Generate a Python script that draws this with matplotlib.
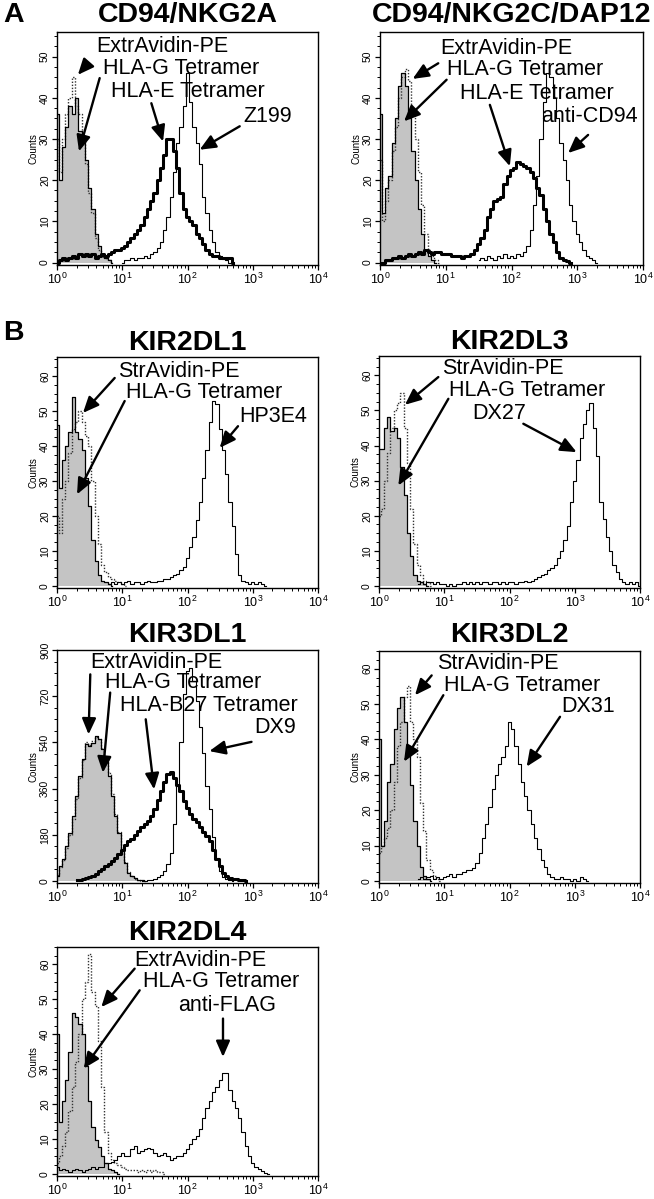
import numpy as np
import matplotlib
matplotlib.use("Agg")
import matplotlib.pyplot as plt
from matplotlib.ticker import LogLocator, AutoMinorLocator, NullFormatter, FixedLocator

plt.rcParams['font.family'] = ['Liberation Sans', 'DejaVu Sans']

STEP = 0.05  # histogram channel width in decades

# ---------------- data (log10 start, counts) ----------------
# A: CD94/NKG2A
a1_extr_start = 0.0
a1_extr = [30, 22, 30, 36, 40, 45, 38, 36, 30, 24, 17, 12, 6, 3, 2, 1, 0.5, 0]
a1_hlag_start = 0.0
a1_hlag = [36, 20, 28, 33, 38, 36, 40, 32, 30, 25, 18, 13, 7, 4, 2, 1, 0.5, 0]
a1_hlae_start = 0.0
a1_hlae = [0, 0.5, 1, 0.5, 1, 1.5, 1, 2, 1.5, 2, 1.5, 2, 1, 1.5, 2, 1.5, 2, 2.5, 3, 3,
           3.5, 4, 5, 6, 7, 8, 9, 11, 13, 15, 17, 20, 23, 26, 30, 30, 27, 23, 17, 13,
           11, 10, 9, 7, 6, 4.5, 3, 2, 1.5, 1.5, 1, 1, 1, 1, 0]
a1_ab_start = 1.0
a1_ab = [0, 0.5, 0.5, 1, 0.5, 1, 1, 1.5, 1, 2, 2.5, 3.5, 5, 8, 11, 16, 22, 29, 33, 38,
         46, 39, 33, 29, 24, 16, 12, 8, 5, 2.5, 1.5, 0.8, 0.5, 0]

# A: CD94/NKG2C/DAP12
a2_extr_start = 0.0
a2_extr = [25, 10, 15, 20, 27, 33, 40, 45, 47, 44, 37, 30, 22, 14, 7, 3, 1.5, 0.5, 0]
a2_hlag_start = 0.0
a2_hlag = [36, 12, 18, 21, 29, 35, 43, 46, 43, 35, 27, 20, 13, 7, 3, 1.5, 0.5, 0]
a2_hlae_start = 0.0
a2_hlae = [0, 0, 0.5, 0.5, 1, 1, 1.5, 1, 1.5, 2, 1.5, 2, 2.5, 2, 3, 2.5, 2, 2.5, 2.5, 2,
           2, 2, 1.5, 1.5, 1.5, 1, 1.5, 1.5, 2, 3, 4.5, 6, 8, 11, 13, 15, 15.5, 16, 19, 21,
           22.5, 23, 24.5, 24, 23.5, 23, 22, 20.5, 18, 16.5, 13, 10, 7, 5, 2.5, 1, 0.5, 0.3, 0]
a2_ab_start = 1.5
a2_ab = [0.5, 1, 0.5, 1.5, 1, 0.5, 1.5, 1, 2, 1, 1.5, 1, 2, 1.5, 2.5, 4, 8, 14, 21, 30,
         39, 46, 45, 40, 35, 29, 25, 20, 14, 10, 7, 5, 3, 1.5, 1, 0.5, 0]

# B: KIR2DL1
k1_str_start = 0.0
k1_str = [20, 15, 25, 30, 38, 45, 47, 50, 47, 43, 40, 30, 20, 12, 6, 4, 2.5, 2, 1.5, 1, 0.5, 0]
k1_hlag_start = 0.0
k1_hlag = [46, 28, 36, 40, 44, 54, 44, 42, 39, 31, 23, 13, 7, 3, 1.5, 1, 0.5, 0]
k1_ab_start = 0.8
k1_ab = [0.5, 1, 0.5, 1, 0.5, 1, 1.5, 0.5, 1, 1, 0.5, 1, 1.5, 1, 1, 1.5, 1.5, 2, 2, 2.5,
         3, 3.5, 4.5, 5.5, 8, 11, 14, 19, 24, 31, 39, 47, 53, 52, 45, 39, 32, 24, 17, 9,
         3, 1.5, 1, 0.5, 1, 0.5, 1, 0.5, 0]

# B: KIR2DL3
k3_str_start = 0.0
k3_str = [20, 22, 30, 38, 45, 50, 52, 55, 45, 35, 22, 12, 6, 3, 1.5, 1, 0]
k3_hlag_start = 0.0
k3_hlag = [39, 39, 45, 48, 44, 45, 42, 34, 26, 15, 8.6, 3, 1.5, 1, 0.5, 0]
k3_ab_start = 0.6
k3_ab = [0.5, 1, 0.5, 1, 1, 0.5, 1, 0.5, 0.5, 0, 0.5, 0, 0.5, 0.5, 1, 0.5, 1, 0.5, 1, 0.5,
         1, 1, 0.5, 1, 1, 0.5, 1, 0.5, 1, 1, 0.5, 1, 1, 1.5, 1, 1.5, 2, 2.5, 3, 3.5,
         4.5, 5, 6, 8, 10, 13, 17, 24, 30, 36, 42, 46, 50, 52, 45, 37, 24, 19, 14, 10,
         6, 4, 2, 1, 0.5, 1, 0.5, 1, 0]

# B: KIR3DL1
k31_extr_start = 0.0
k31_extr = [25, 55, 80, 130, 180, 240, 320, 400, 470, 540, 530, 545, 560, 555, 520, 480,
            420, 340, 260, 190, 130, 75, 35, 18, 8, 3, 0]
k31_hlag_start = 0.0
k31_hlag = [20, 58, 84, 136, 188, 253, 331, 409, 474, 532, 526, 539, 565, 552, 513, 474,
            409, 331, 253, 188, 123, 71, 32, 20, 10, 5, 2, 0]
k31_b27_start = 0.3
k31_b27 = [2, 4, 6, 10, 14, 19, 28, 38, 47, 57, 66, 76, 90, 105, 120, 140, 155, 165, 180, 195,
           210, 220, 235, 255, 280, 315, 350, 385, 415, 425, 400, 375, 350, 310, 285, 262, 243,
           228, 210, 192, 175, 155, 120, 85, 58, 32, 20, 13, 9, 6, 4, 2, 0]
k31_ab_start = 1.3
k31_ab = [0, 1, 2, 4, 8, 14, 24, 40, 65, 110, 220, 370, 540, 730, 820, 830, 780, 700, 600,
          500, 370, 280, 170, 90, 40, 15, 6, 2, 0]

# B: KIR3DL2
k32_str_start = 0.0
k32_str = [8, 10, 12, 15, 20, 28, 38, 45, 52, 55, 45, 40, 35, 22, 14, 6, 3, 1.5, 0.5, 0]
k32_hlag_start = 0.0
k32_hlag = [40, 10, 17, 28, 33, 43, 49, 52, 45, 38, 27, 17, 10, 4, 1.5, 0.5, 0]
k32_ab_start = 0.6
k32_ab = [0.5, 1, 0.5, 1, 1.5, 0.5, 1, 0.5, 1, 1.5, 2, 1, 2, 2, 2.5, 3, 3, 3.5, 5, 8,
          12, 16, 21, 26, 30, 33, 35, 38, 45, 43, 38, 33, 28, 24, 20, 16, 12, 9, 6, 4,
          2, 1, 0.5, 0.5, 1, 0.5, 0.5, 0, 0.5, 0, 1, 0.5, 0]

# B: KIR2DL4
k4_extr_start = 0.0
k4_extr = [3, 5, 8, 12, 18, 25, 32, 40, 50, 55, 63, 52, 48, 38, 25, 12, 6, 4, 3, 2.5,
           2, 1.5, 1, 1, 1, 0.5, 1, 0.5, 1, 0.5, 1, 0.5, 0.5, 0]
k4_hlag_start = 0.0
k4_hlag = [40, 15, 21, 27, 35, 46, 45, 43, 40, 31, 21, 13.5, 9.7, 7.8, 5, 3, 1.5, 1, 0.5, 0]
k4_ab_start = 0.0
k4_ab = [2, 1, 1.5, 1, 0.5, 1, 1.5, 1, 0.5, 1, 1.5, 2, 1.5, 2, 2, 3, 3, 3.5, 4, 5,
         6, 5, 5, 7, 8, 6, 6.5, 7, 7.5, 7, 6, 5, 5.5, 6, 5, 4, 4.5, 5, 5, 6,
         7, 8.5, 10, 11, 13, 16, 19, 21, 23.5, 25, 27, 29, 29, 24, 21, 19, 16, 12, 8, 5,
         3, 2, 1.5, 0.7, 0.3, 0]

panel_titles = ["CD94/NKG2A", "CD94/NKG2C/DAP12", "KIR2DL1", "KIR2DL3",
                "KIR3DL1", "KIR3DL2", "KIR2DL4"]

# ---------------- layout ----------------
W, H = 654, 1199
fig = plt.figure(figsize=(W / 100, H / 100), dpi=100)


def ax_at(x0, x1, y0, y1):
    return fig.add_axes([x0 / W, 1 - y1 / H, (x1 - x0) / W, (y1 - y0) / H])


def xs(start, counts):
    return 10 ** (start + STEP * np.arange(len(counts)))


def draw_fill(ax, start, counts):
    x = xs(start, counts)
    y = np.asarray(counts, float)
    ax.fill_between(x, 0, y, step='mid', facecolor='#c4c4c4', edgecolor='none',
                    linewidth=0, zorder=1)
    ax.step(x, y, where='mid', color='black', lw=0.9, zorder=3)


def draw_line(ax, start, counts, style):
    x = xs(start, counts)
    y = np.asarray(counts, float)
    if style == 'dot':
        ax.step(x, y, where='mid', color='#333333', lw=1.0, ls=(0, (1, 1.2)), zorder=2)
    elif style == 'thick':
        ax.step(x, y, where='mid', color='black', lw=2.2, zorder=4)
    else:
        ax.step(x, y, where='mid', color='black', lw=0.8, zorder=4)


def style_axes(ax, ymax, yticks, ybottom):
    ax.set_xscale('log')
    ax.set_xlim(1, 1e4)
    ax.set_ylim(ybottom, ymax)
    ax.xaxis.set_major_locator(LogLocator(base=10, numticks=10))
    ax.xaxis.set_minor_locator(LogLocator(base=10, subs=np.arange(2, 10), numticks=20))
    ax.xaxis.set_minor_formatter(NullFormatter())
    ax.yaxis.set_major_locator(FixedLocator(yticks))
    ax.yaxis.set_minor_locator(AutoMinorLocator(4))
    ax.tick_params(axis='both', which='major', direction='out', length=3.5, width=0.9,
                   pad=1.5)
    ax.tick_params(axis='x', labelsize=9)
    ax.tick_params(axis='both', which='minor', direction='out', length=2, width=0.7)
    ax.tick_params(axis='y', labelsize=7.5)
    for lab in ax.get_yticklabels():
        lab.set_rotation(90)
        lab.set_va('center')
    ax.set_ylabel('Counts', fontsize=7, labelpad=1)
    for s in ax.spines.values():
        s.set_linewidth(1.0)


def annotate(ax, items):
    for label, tx, ty, taillog, taily, tiplog, tipy in items:
        ax.text(10 ** tx, ty, label, fontsize=15.5, ha='left', va='center', zorder=6)
        ax.annotate('', xy=(10 ** tiplog, tipy), xytext=(10 ** taillog, taily),
                    arrowprops=dict(arrowstyle='-|>,head_length=0.8,head_width=0.35',
                                    mutation_scale=12, color='black', lw=1.7,
                                    shrinkA=0, shrinkB=0),
                    zorder=6)


def title(ax, text, y_px):
    bb = ax.get_position()
    fig.text(bb.x0 + bb.width / 2, 1 - y_px / H, text, fontsize=20.5,
             fontweight='bold', ha='center', va='center')


t_counts = [0, 10, 20, 30, 40, 50]
t_counts60 = [0, 10, 20, 30, 40, 50, 60]
t_900 = [0, 180, 360, 540, 720, 900]

# Panel A1
ax = ax_at(57, 318, 32, 265)
style_axes(ax, 56, t_counts, -0.6)
draw_fill(ax, a1_hlag_start, a1_hlag)
draw_line(ax, a1_extr_start, a1_extr, 'dot')
draw_line(ax, a1_hlae_start, a1_hlae, 'thick')
draw_line(ax, a1_ab_start, a1_ab, 'thin')
annotate(ax, [("ExtrAvidin-PE", 0.60, 52.4, 0.475, 48.4, 0.32, 45.6),
              ("HLA-G Tetramer", 0.705, 47.2, 0.654, 44.8, 0.337, 27.0),
              ("HLA-E Tetramer", 0.833, 41.5, 1.446, 38.7, 1.625, 29.4),
              ("Z199", 2.85, 35.5, 2.80, 33.1, 2.186, 27.4)])
title(ax, panel_titles[0], 15)

# Panel A2
ax = ax_at(380, 643, 32, 265)
style_axes(ax, 56, t_counts, -0.6)
draw_fill(ax, a2_hlag_start, a2_hlag)
draw_line(ax, a2_extr_start, a2_extr, 'dot')
draw_line(ax, a2_hlae_start, a2_hlae, 'thick')
draw_line(ax, a2_ab_start, a2_ab, 'thin')
annotate(ax, [("ExtrAvidin-PE", 0.911, 52.0, 0.886, 48.4, 0.496, 44.6),
              ("HLA-G Tetramer", 1.013, 46.8, 1.013, 44.4, 0.365, 34.3),
              ("HLA-E Tetramer", 1.215, 41.1, 1.671, 38.3, 1.975, 23.4),
              ("anti-CD94", 2.456, 35.5, 3.165, 31.0, 2.861, 26.6)])
title(ax, panel_titles[1], 15)

# Panel B KIR2DL1
ax = ax_at(57, 318, 357, 588)
style_axes(ax, 65.5, t_counts60, -0.6)
draw_fill(ax, k1_hlag_start, k1_hlag)
draw_line(ax, k1_str_start, k1_str, 'dot')
draw_line(ax, k1_ab_start, k1_ab, 'thin')
annotate(ax, [("StrAvidin-PE", 0.935, 61.4, 0.884, 59.5, 0.398, 49.5),
              ("HLA-G Tetramer", 1.052, 55.2, 1.037, 52.9, 0.307, 26.2),
              ("HP3E4", 2.80, 48.6, 2.774, 45.7, 2.493, 39.5)])
title(ax, panel_titles[2], 343)

# Panel B KIR2DL3
ax = ax_at(379, 640, 356, 588)
style_axes(ax, 65.5, t_counts60, -0.6)
draw_fill(ax, k3_hlag_start, k3_hlag)
draw_line(ax, k3_str_start, k3_str, 'dot')
draw_line(ax, k3_ab_start, k3_ab, 'thin')
annotate(ax, [("StrAvidin-PE", 0.960, 61.9, 0.909, 59.5, 0.398, 51.6),
              ("HLA-G Tetramer", 1.078, 55.7, 1.063, 53.3, 0.296, 28.6),
              ("DX27", 1.435, 49.0, 2.212, 46.2, 3.029, 38.1)])
title(ax, panel_titles[3], 342)

# Panel B KIR3DL1
ax = ax_at(57, 318, 650, 883)
style_axes(ax, 900, t_900, -8)
draw_fill(ax, k31_hlag_start, k31_hlag)
draw_line(ax, k31_extr_start, k31_extr, 'dot')
draw_line(ax, k31_b27_start, k31_b27, 'thick')
draw_line(ax, k31_ab_start, k31_ab, 'thin')
annotate(ax, [("ExtrAvidin-PE", 0.51, 853, 0.51, 805, 0.484, 571),
              ("HLA-G Tetramer", 0.739, 773, 0.815, 734, 0.703, 422),
              ("HLA-B27 Tetramer", 0.968, 684, 1.36, 630, 1.488, 357),
              ("DX9", 3.017, 597, 2.981, 542, 2.334, 506)])
title(ax, panel_titles[4], 635)

# Panel B KIR3DL2
ax = ax_at(379, 640, 651, 883)
style_axes(ax, 65, t_counts60, -0.6)
draw_fill(ax, k32_hlag_start, k32_hlag)
draw_line(ax, k32_str_start, k32_str, 'dot')
draw_line(ax, k32_ab_start, k32_ab, 'thin')
annotate(ax, [("StrAvidin-PE", 0.884, 61.4, 0.807, 58.1, 0.552, 52.5),
              ("HLA-G Tetramer", 1.001, 55.3, 0.986, 52.5, 0.383, 33.7),
              ("DX31", 2.80, 49.2, 2.774, 46.4, 2.263, 32.3)])
title(ax, panel_titles[5], 635)

# Panel B KIR2DL4
ax = ax_at(57, 318, 947, 1176)
style_axes(ax, 65, t_counts60, -0.6)
draw_fill(ax, k4_hlag_start, k4_hlag)
draw_line(ax, k4_extr_start, k4_extr, 'dot')
draw_line(ax, k4_ab_start, k4_ab, 'thin')
annotate(ax, [("ExtrAvidin-PE", 1.19, 61.1, 1.19, 58.8, 0.679, 47.8),
              ("HLA-G Tetramer", 1.318, 55.0, 1.267, 52.6, 0.409, 30.2),
              ("anti-FLAG", 1.854, 48.3, 2.544, 44.5, 2.544, 33.5)])
title(ax, panel_titles[6], 933)

# Panel letters
fig.text(3 / W, 1 - 15 / H, "A", fontsize=20.5, fontweight='bold', ha='left', va='center')
fig.text(3 / W, 1 - 333 / H, "B", fontsize=20.5, fontweight='bold', ha='left', va='center')

fig.savefig("out.png", dpi=100, facecolor='white')
